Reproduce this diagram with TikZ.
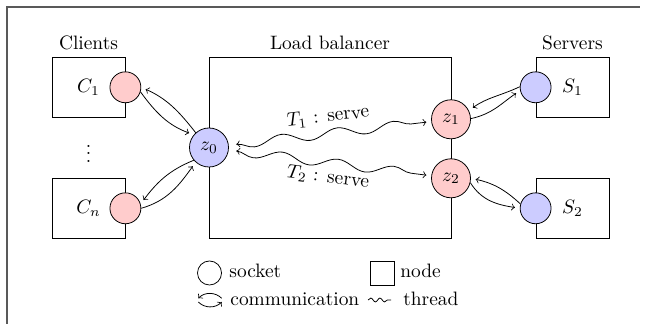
\documentclass[tikz,border=0pt]{standalone}
\usetikzlibrary{decorations.pathmorphing}
\begin{document}
\begin{tikzpicture}[x=0.018116cm, y=0.018116cm,
  box/.style={draw, rectangle, inner sep=0pt},
  endbox/.style={box, minimum width=1.3225cm, minimum height=1.087cm},
  lbbox/.style={box, minimum width=4.384cm, minimum height=3.279cm},
  bigsock/.style={draw, circle, minimum size=0.7065cm, inner sep=0pt},
  smallsock/.style={draw, circle, minimum size=0.56cm, inner sep=0pt},
  redsock/.style={fill=red!20},
  bluesock/.style={fill=blue!20},
  comm/.style={->, shorten >=2.5pt},
  thread/.style={<->, decorate, decoration={snake, amplitude=-2.4pt, segment length=29pt, pre length=4pt, post length=4pt}, shorten <=4pt, shorten >=2.5pt},
  frameline/.style={draw=black!65, line width=0.8pt},
  legtext/.style={anchor=base west, inner sep=0pt}
]
\useasboundingbox (0,0) rectangle (664,324);
\fill[white] (0,0) rectangle (664,324);
\coordinate (fbl) at (7,0);
\coordinate (ftl) at (7,317);
\coordinate (ftr) at (640,317);
\draw[frameline] (fbl) -- (ftl) -- (ftr);

% boxes
\node[endbox, label={above:Clients}] (cl1) at (88.5,236.7) {$C_1$};
\node[endbox] (cln) at (88.5,115.7) {$C_n$};
\node (dots) at (88.5,176) {$\vdots$};
\node[lbbox, label={above:Load balancer}] (lb) at (330,176.2) {};
\node[endbox, label={above:Servers}] (sv1) at (572.5,236.7) {$S_1$};
\node[endbox] (sv2) at (572.5,115.7) {$S_2$};

% sockets
\node[smallsock, redsock] (c1) at (cl1.east) {};
\node[smallsock, redsock] (cn) at (cln.east) {};
\node[bigsock, bluesock] (z0) at (209,176.5) {$z_0$};
\node[bigsock, redsock] (z1) at (451,204.7) {$z_1$};
\node[bigsock, redsock] (z2) at (451,145.7) {$z_2$};
\node[smallsock, bluesock] (s1) at (sv1.west) {};
\node[smallsock, bluesock] (s2) at (sv2.west) {};

% communications
\draw[comm] (z0.132) to[out=128, in=-24] (c1.0);
\draw[comm] (c1.-17) to[out=-54, in=160] (z0.140);
\draw[comm] (cn.0) to[out=16, in=-126] (z0.-132);
\draw[comm] (z0.-140) to[out=-158, in=53] (cn.16);
\draw[comm] (s1.178) to[out=205, in=36] (z1.26);
\draw[comm] (z1.2) to[out=12, in=214] (s1.192);
\draw[comm] (s2.164) to[out=137, in=-12] (z2.0);
\draw[comm] (z2.-13) to[out=-58, in=171] (s2.180);

% threads
\draw[thread] (z0) -- (z1) node[midway, above=1pt, sloped] {$T_1$ : serve};
\draw[thread] (z0) -- (z2) node[midway, below, sloped] {$T_2$ : serve};

% legend
\node[draw, circle, minimum size=0.435cm, inner sep=0pt] (legsock) at (209.5,51) {};
\node[legtext] (legsocktxt) at (229,46) {socket};
\node[draw, rectangle, minimum size=0.435cm, inner sep=0pt] (legnode) at (382,51) {};
\node[legtext] (legnodetxt) at (400,46) {node};
\coordinate (lca) at (221.7,25.7);
\coordinate (lcb) at (198.3,25.7);
\coordinate (lcc) at (198.3,22);
\coordinate (lcd) at (221.7,22);
\draw[->] (lca) to[bend right=45] (lcb);
\draw[->] (lcc) to[bend right=45] (lcd);
\node[legtext] (legcommtxt) at (230,18.5) {communication};
\coordinate (lta) at (368,24);
\coordinate (ltb) at (391,24);
\draw[decorate, decoration={snake, amplitude=1pt, segment length=4.7pt}] (lta) -- (ltb);
\node[legtext] (legthrtxt) at (403,18.5) {thread};
\end{tikzpicture}
\end{document}
